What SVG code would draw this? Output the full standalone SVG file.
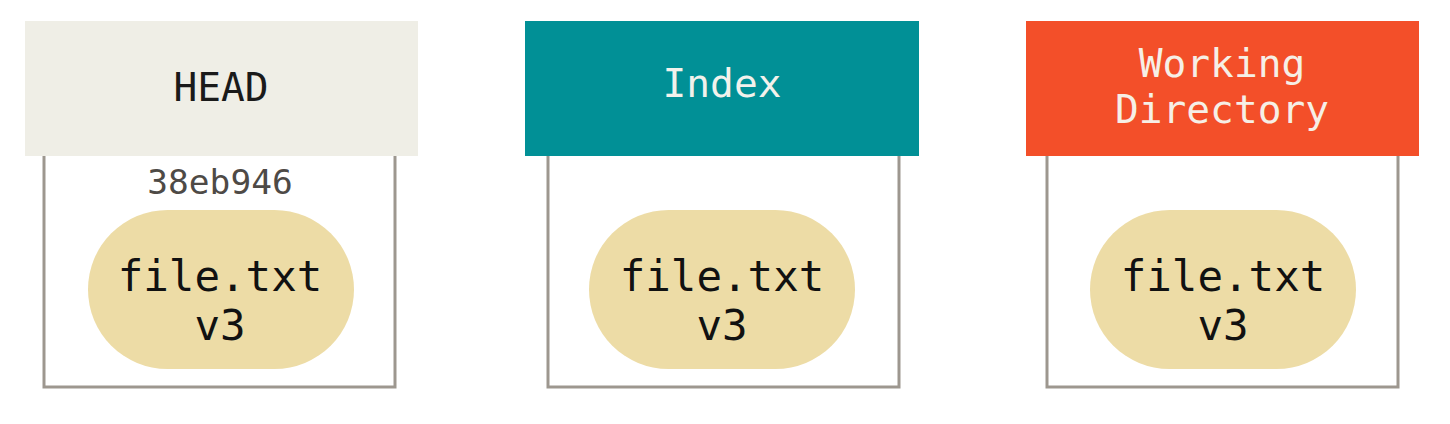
<svg xmlns="http://www.w3.org/2000/svg" width="1450" height="424" viewBox="0 0 1450 424">
<style>
.box{fill:#fff;stroke:#9d978f;stroke-width:3}
.pill{fill:#eddca6}
.t{font-family:"DejaVu Sans Mono","Liberation Mono",monospace;text-anchor:middle}
.h{font-size:39.5px}
.f{font-size:42.5px;fill:#111}
.sha{font-size:34.5px;fill:#4e4a46}
</style>
<rect width="1450" height="424" fill="#fff"/>
<g id="head">
<rect class="box" x="44" y="120" width="351" height="267"/>
<rect x="25" y="21" width="393" height="135" fill="#efeee6"/>
<text class="t h" x="221" y="101" fill="#1a1a1a">HEAD</text>
<text class="t sha" x="220" y="194">38eb946</text>
<rect class="pill" x="88" y="210" width="266" height="159" rx="79.5"/>
<text class="t f" x="220" y="291">file.txt</text>
<text class="t f" x="220" y="340">v3</text>
</g>
<g id="index">
<rect class="box" x="548" y="120" width="351" height="267"/>
<rect x="525" y="21" width="394" height="135" fill="#019096"/>
<text class="t h" x="722" y="97" fill="#f2f2ec">Index</text>
<rect class="pill" x="589" y="210" width="266" height="159" rx="79.5"/>
<text class="t f" x="722" y="291">file.txt</text>
<text class="t f" x="722" y="340">v3</text>
</g>
<g id="workdir">
<rect class="box" x="1047" y="120" width="351" height="267"/>
<rect x="1026" y="21" width="393" height="135" fill="#f34f29"/>
<text class="t h" x="1222" y="77" fill="#f6efe6">Working</text>
<text class="t h" x="1222" y="123" fill="#f6efe6">Directory</text>
<rect class="pill" x="1090" y="210" width="266" height="159" rx="79.5"/>
<text class="t f" x="1223" y="291">file.txt</text>
<text class="t f" x="1223" y="340">v3</text>
</g>
<g id="connectors"></g>
</svg>
